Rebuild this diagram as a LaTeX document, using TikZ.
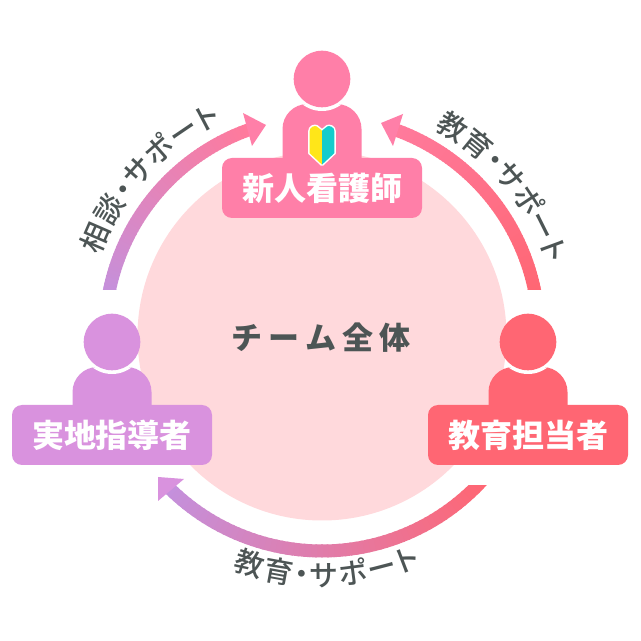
\documentclass[tikz,border=0pt]{standalone}
\usepackage{fontspec}
\newfontfamily\jp{Noto Sans CJK JP}
\newfontfamily\jpm{Noto Sans CJK JP Medium}[RawFeature=+palt]
\usetikzlibrary{decorations.text}
\definecolor{cpink}{HTML}{FF7FA8}
\definecolor{cpurple}{HTML}{D992DE}
\definecolor{cred}{HTML}{FF6673}
\definecolor{cbg}{HTML}{FFD9DC}
\definecolor{cink}{HTML}{4D5555}
\definecolor{carcpurple}{HTML}{C490DC}
\definecolor{carcpink}{HTML}{FF7A9C}
\definecolor{cyel}{HTML}{FFE619}
\definecolor{cteal}{HTML}{14CCCC}
\tikzset{
  labelbox/.style={rounded corners=10pt,minimum width=200pt,minimum height=60pt,inner sep=0pt,text=white,
    font=\jp\bfseries\fontsize{32}{32}\selectfont},
}
\newcommand{\person}[6]{% name, colour, head x, head y, box y, text
  \begin{scope}
    \path[clip,rounded corners=25pt] (#3-39.5,#5) rectangle (#3+39.5,#4-25);
    \fill[#2] (#3-40,#5) rectangle (#3+40,#4-24);
    \fill[white] (#3,#4) circle[radius=32pt];
  \end{scope}
  \fill[#2] (#3,#4) circle[radius=28.3pt];
  \node[labelbox,fill=#2] (#1box) at (#3,#5) {#6};
}
\newcommand{\gradarc}[4]{%
  \foreach \i in {0,...,59}{%
    \pgfmathsetmacro{\aone}{#1+(#2-#1)*\i/60}%
    \pgfmathsetmacro{\atwo}{#1+(#2-#1)*(\i+1.3)/60}%
    \pgfmathsetmacro{\mixv}{100*\i/59}%
    \colorlet{segc}{#4!\mixv!#3}%
    \draw[segc,line width=13pt] (322,307)+(\aone:217pt) arc[start angle=\aone,end angle=\atwo,radius=217pt];
  }%
}
\begin{document}
\begin{tikzpicture}[x=1pt,y=1pt]
\useasboundingbox (0,0) rectangle (641,641);
\fill[white] (0,0) rectangle (641,641);
\fill[cbg] (322,305) circle[radius=184.5pt];
\node[text=cink,font=\jp\bfseries\fontsize{31}{31}\selectfont\addfontfeature{LetterSpace=20}] (team) at (321,303) {チーム全体};

\person{nurse}{cpink}{322}{562}{453}{新人看護師}
\person{field}{cpurple}{112}{299}{206}{実地指導者}
\person{edu}{cred}{528}{299}{206}{教育担当者}

% wakaba mark
\begin{scope}[shift={(322,496.5)},yscale=1.06,xscale=1.04]
  \path[draw=white,fill=white,line width=3pt,line join=round]
    (0,-19) -- (-12,-8) -- (-12,12) .. controls (-12,17) and (-7,18) .. (-5,17) -- (0,13) -- (5,17) .. controls (7,18) and (12,17) .. (12,12) -- (12,-8) -- cycle;
  \fill[cyel] (0,-19) -- (-12,-8) -- (-12,12) .. controls (-12,17) and (-7,18) .. (-5,17) -- (0,13) -- cycle;
  \fill[cteal] (0,-19) -- (12,-8) -- (12,12) .. controls (12,17) and (7,18) .. (5,17) -- (0,13) -- cycle;
\end{scope}

% arcs
\begin{scope}
  \clip (0,351) rectangle (641,641);
  \gradarc{170}{110}{carcpurple}{carcpink}
  \gradarc{10}{70}{cred}{carcpink}
\end{scope}
\begin{scope}
  \clip (0,0) rectangle (641,155);
  \gradarc{-42}{-134.5}{cred}{carcpurple}
\end{scope}
\fill[cpink] (266,516) -- (243,528) -- (252,495) -- cycle;
\fill[cpink] (381,518) -- (403,527) -- (393,495) -- cycle;
\fill[cpurple] (158,164) -- (184,162) -- (158,140) -- cycle;

% arc labels
\tikzset{arclabel/.style={decorate,decoration={text along path,text align={fit to path},
  text color=cink,text={|\jpm\fontsize{29}{29}\selectfont|#1}}}}
\path[arclabel=相談・サポート] (322,305)+(160:236pt) arc[start angle=160,end angle=115,radius=236pt];
\path[arclabel=教育・サポート] (322,305)+(61.5:236pt) arc[start angle=61.5,end angle=17.5,radius=236pt];
\path[arclabel=教育・サポート] (322,305)+(249:250pt) arc[start angle=249,end angle=293.5,radius=250pt];
\end{tikzpicture}
\end{document}
